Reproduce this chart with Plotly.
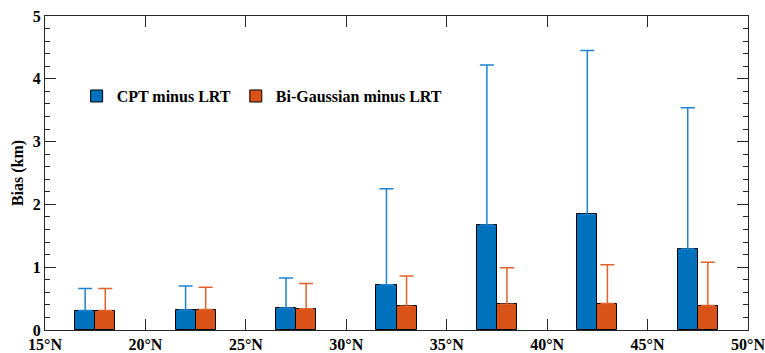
import plotly.graph_objects as go

lat_centers = [17.5, 22.5, 27.5, 32.5, 37.5, 42.5, 47.5]
cpt_bias = [0.31, 0.32, 0.35, 0.72, 1.67, 1.84, 1.29]
cpt_upper = [0.66, 0.70, 0.83, 2.25, 4.22, 4.45, 3.54]
bg_bias = [0.31, 0.325, 0.34, 0.38, 0.41, 0.42, 0.39]
bg_upper = [0.66, 0.68, 0.74, 0.86, 0.99, 1.04, 1.08]
tick_vals = [15, 20, 25, 30, 35, 40, 45, 50]
tick_text = ["<b>15°N</b>", "<b>20°N</b>", "<b>25°N</b>", "<b>30°N</b>", "<b>35°N</b>",
             "<b>40°N</b>", "<b>45°N</b>", "<b>50°N</b>"]
y_vals = [0, 1, 2, 3, 4, 5]
y_text = ["<b>0</b>", "<b>1</b>", "<b>2</b>", "<b>3</b>", "<b>4</b>", "<b>5</b>"]

font_family = "'Liberation Serif', 'Times New Roman', Times, serif"

fig = go.Figure()
fig.add_trace(go.Bar(
    x=[c - 0.5 for c in lat_centers], y=cpt_bias, width=1,
    name="<b>CPT minus LRT</b>",
    marker=dict(color="#0072BD", line=dict(color="black", width=1)),
    error_y=dict(type="data", symmetric=False,
                 array=[u - v for u, v in zip(cpt_upper, cpt_bias)],
                 arrayminus=[0] * len(cpt_bias),
                 color="#1f82d0", thickness=1.5, width=7),
))
fig.add_trace(go.Bar(
    x=[c + 0.5 for c in lat_centers], y=bg_bias, width=1,
    name="<b>Bi-Gaussian minus LRT</b>",
    marker=dict(color="#D95319", line=dict(color="black", width=1)),
    error_y=dict(type="data", symmetric=False,
                 array=[u - v for u, v in zip(bg_upper, bg_bias)],
                 arrayminus=[0] * len(bg_bias),
                 color="#e0622e", thickness=1.5, width=7),
))

axis_common = dict(showline=True, linecolor="#262626", linewidth=1, mirror="ticks",
                   ticks="inside", ticklen=11, tickcolor="#262626", tickwidth=1,
                   showgrid=False, zeroline=False, automargin=False,
                   ticklabeloverflow="allow",
                   tickfont=dict(family=font_family, size=16, color="black"))

fig.update_layout(
    width=765, height=353,
    margin=dict(l=45, r=17, t=16, b=23),
    paper_bgcolor="white", plot_bgcolor="white",
    font=dict(family=font_family, color="black"),
    barmode="overlay", bargap=0,
    showlegend=True,
    legend=dict(orientation="h", x=0.045, y=0.745, xanchor="left", yanchor="middle",
                bgcolor="rgba(0,0,0,0)",
                font=dict(family=font_family, size=16, color="black"),
                itemwidth=30, tracegroupgap=0),
    xaxis=dict(range=[15, 50], tickvals=tick_vals, ticktext=tick_text, ticklabelstandoff=0,
               **axis_common),
    yaxis=dict(range=[0, 5], tickvals=y_vals, ticktext=y_text,
               minor=dict(dtick=0.2, ticks="inside", ticklen=5, tickcolor="#262626"),
               title=dict(text="<b>Bias (km)</b>", standoff=5,
                          font=dict(family=font_family, size=16, color="black")),
               **axis_common),
)

fig.write_html("out.html", config={"displayModeBar": False},
               post_script="document.body.style.margin='0';document.body.style.padding='0';")
